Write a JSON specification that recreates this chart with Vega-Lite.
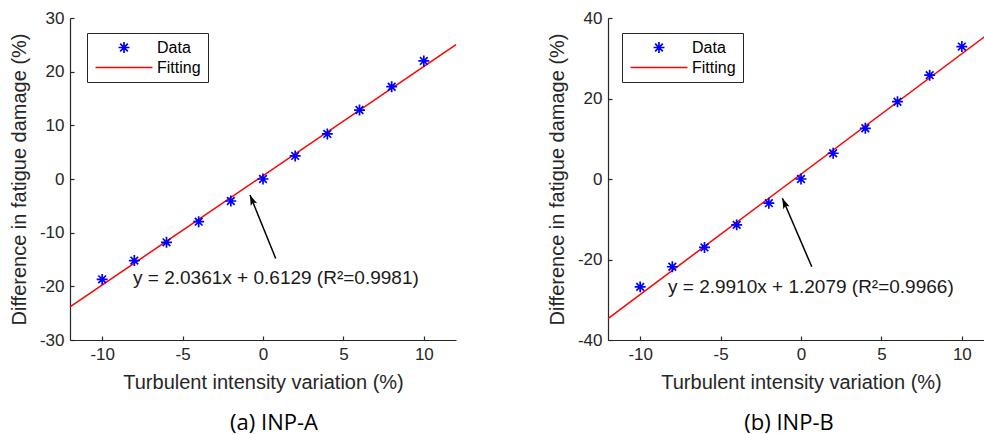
{
  "$schema": "https://vega.github.io/schema/vega-lite/v6.json",
  "background": "white",
  "padding": {"left": 9, "top": 9, "right": 0, "bottom": 4},
  "bounds": "flush",
  "spacing": 152,
  "resolve": {
    "scale": {"x": "independent", "y": "independent", "color": "independent", "shape": "independent"},
    "legend": {"color": "independent", "shape": "independent"}
  },
  "datasets": {
    "pointsA": [
      {"x": -10, "y": -18.7, "series": "Data"},
      {"x": -8, "y": -15.2, "series": "Data"},
      {"x": -6, "y": -11.8, "series": "Data"},
      {"x": -4, "y": -7.95, "series": "Data"},
      {"x": -2, "y": -4.1, "series": "Data"},
      {"x": 0, "y": 0, "series": "Data"},
      {"x": 2, "y": 4.3, "series": "Data"},
      {"x": 4, "y": 8.4, "series": "Data"},
      {"x": 6, "y": 12.85, "series": "Data"},
      {"x": 8, "y": 17.2, "series": "Data"},
      {"x": 10, "y": 22.0, "series": "Data"}
    ],
    "lineA": [
      {"x": -12, "y": -23.82, "series": "Fitting"},
      {"x": 12, "y": 25.05, "series": "Fitting"}
    ],
    "pointsB": [
      {"x": -10, "y": -26.8, "series": "Data"},
      {"x": -8, "y": -21.8, "series": "Data"},
      {"x": -6, "y": -17.0, "series": "Data"},
      {"x": -4, "y": -11.4, "series": "Data"},
      {"x": -2, "y": -6.0, "series": "Data"},
      {"x": 0, "y": 0, "series": "Data"},
      {"x": 2, "y": 6.4, "series": "Data"},
      {"x": 4, "y": 12.6, "series": "Data"},
      {"x": 6, "y": 19.2, "series": "Data"},
      {"x": 8, "y": 25.8, "series": "Data"},
      {"x": 10, "y": 32.9, "series": "Data"}
    ],
    "lineB": [
      {"x": -12, "y": -34.68, "series": "Fitting"},
      {"x": 12, "y": 37.10, "series": "Fitting"}
    ],
    "annA": [
      {"label": "y = 2.0361x + 0.6129 (R²=0.9981)", "tx": -8.08, "ty": -18.4, "hx": -0.81, "hy": -2.98, "ax": 0.79, "ay": -14.8, "angle": -22.4}
    ],
    "annB": [
      {"label": "y = 2.9910x + 1.2079 (R²=0.9966)", "tx": -8.27, "ty": -26.9, "hx": -1.16, "hy": -4.8, "ax": 0.67, "ay": -21.8, "angle": -23.3}
    ]
  },
  "config": {
    "view": {"stroke": null},
    "axis": {
      "grid": false,
      "labelFont": "Liberation Sans",
      "labelFontSize": 17,
      "labelColor": "#262626",
      "labelExpr": "replace(datum.label, '−', '-')",
      "titleFont": "Liberation Sans",
      "titleFontSize": 20,
      "titleFontWeight": "normal",
      "titleColor": "#262626",
      "domainColor": "#262626",
      "domainWidth": 1.2,
      "tickColor": "#262626",
      "tickWidth": 1.2,
      "tickSize": -4
    },
    "legend": {
      "title": null,
      "orient": "none",
      "strokeColor": "#262626",
      "fillColor": "white",
      "padding": 6.5,
      "labelFont": "Liberation Sans",
      "labelFontSize": 16,
      "labelColor": "black",
      "symbolSize": 120,
      "symbolOffset": 22.5,
      "labelOffset": 25,
      "rowPadding": 3,
      "symbolStrokeWidth": 1.7
    }
  },
  "hconcat": [
    {
      "width": 386,
      "height": 322,
      "title": {"text": "(a) INP-A", "orient": "bottom", "frame": "group", "anchor": "middle", "dx": 11, "offset": 21, "font": "Open Sans", "fontSize": 22, "fontWeight": "normal", "color": "black"},
      "layer": [
        {
          "data": {"name": "lineA"},
          "mark": {"type": "line", "strokeWidth": 1.5},
          "encoding": {
            "x": {"field": "x", "type": "quantitative", "scale": {"domain": [-12, 12], "nice": false, "zero": false}, "axis": {"values": [-10, -5, 0, 5, 10], "title": "Turbulent intensity variation (%)", "labelPadding": 10, "titlePadding": 10}},
            "y": {"field": "y", "type": "quantitative", "scale": {"domain": [-30, 30], "nice": false, "zero": false}, "axis": {"values": [-30, -20, -10, 0, 10, 20, 30], "title": "Difference in fatigue damage (%)", "labelPadding": 10, "titlePadding": 10}},
            "color": {"field": "series", "type": "nominal", "scale": {"domain": ["Data", "Fitting"], "range": ["#0000ff", "#ff0000"]}, "legend": {"legendX": 17, "legendY": 15}}
          }
        },
        {
          "data": {"name": "pointsA"},
          "mark": {"type": "point", "filled": false, "strokeWidth": 1.7, "opacity": 1, "size": 120},
          "encoding": {
            "x": {"field": "x", "type": "quantitative"},
            "y": {"field": "y", "type": "quantitative"},
            "color": {"field": "series", "type": "nominal"},
            "shape": {"field": "series", "type": "nominal", "scale": {"domain": ["Data", "Fitting"], "range": ["M0,-1L0,1M-1,0L1,0M-0.7,-0.7L0.7,0.7M-0.7,0.7L0.7,-0.7", "M-5.2,0L5.2,0"]}, "legend": {"legendX": 17, "legendY": 15}}
          }
        },
        {
          "data": {"name": "annA"},
          "mark": {"type": "rule", "color": "black", "strokeWidth": 1.5},
          "encoding": {
            "x": {"field": "ax", "type": "quantitative"},
            "y": {"field": "ay", "type": "quantitative"},
            "x2": {"field": "hx"},
            "y2": {"field": "hy"}
          }
        },
        {
          "data": {"name": "annA"},
          "mark": {"type": "point", "shape": "M0,0L0.7,2.1L0,1.6L-0.7,2.1Z", "filled": true, "color": "black", "opacity": 1, "size": 100},
          "encoding": {
            "x": {"field": "hx", "type": "quantitative"},
            "y": {"field": "hy", "type": "quantitative"},
            "angle": {"field": "angle", "type": "quantitative", "scale": null}
          }
        },
        {
          "data": {"name": "annA"},
          "mark": {"type": "text", "align": "left", "baseline": "middle", "font": "Liberation Sans", "fontSize": 19, "color": "#1a1a1a"},
          "encoding": {
            "x": {"field": "tx", "type": "quantitative"},
            "y": {"field": "ty", "type": "quantitative"},
            "text": {"field": "label"}
          }
        }
      ]
    },
    {
      "width": 386,
      "height": 322,
      "title": {"text": "(b) INP-B", "orient": "bottom", "frame": "group", "anchor": "middle", "dx": -12, "offset": 21, "font": "Open Sans", "fontSize": 22, "fontWeight": "normal", "color": "black"},
      "layer": [
        {
          "data": {"name": "lineB"},
          "mark": {"type": "line", "strokeWidth": 1.5},
          "encoding": {
            "x": {"field": "x", "type": "quantitative", "scale": {"domain": [-12, 12], "nice": false, "zero": false}, "axis": {"values": [-10, -5, 0, 5, 10], "title": "Turbulent intensity variation (%)", "labelPadding": 10, "titlePadding": 10}},
            "y": {"field": "y", "type": "quantitative", "scale": {"domain": [-40, 40], "nice": false, "zero": false}, "axis": {"values": [-40, -20, 0, 20, 40], "title": "Difference in fatigue damage (%)", "labelPadding": 10, "titlePadding": 10}},
            "color": {"field": "series", "type": "nominal", "scale": {"domain": ["Data", "Fitting"], "range": ["#0000ff", "#ff0000"]}, "legend": {"legendX": 14, "legendY": 15}}
          }
        },
        {
          "data": {"name": "pointsB"},
          "mark": {"type": "point", "filled": false, "strokeWidth": 1.7, "opacity": 1, "size": 120},
          "encoding": {
            "x": {"field": "x", "type": "quantitative"},
            "y": {"field": "y", "type": "quantitative"},
            "color": {"field": "series", "type": "nominal"},
            "shape": {"field": "series", "type": "nominal", "scale": {"domain": ["Data", "Fitting"], "range": ["M0,-1L0,1M-1,0L1,0M-0.7,-0.7L0.7,0.7M-0.7,0.7L0.7,-0.7", "M-5.2,0L5.2,0"]}, "legend": {"legendX": 14, "legendY": 15}}
          }
        },
        {
          "data": {"name": "annB"},
          "mark": {"type": "rule", "color": "black", "strokeWidth": 1.5},
          "encoding": {
            "x": {"field": "ax", "type": "quantitative"},
            "y": {"field": "ay", "type": "quantitative"},
            "x2": {"field": "hx"},
            "y2": {"field": "hy"}
          }
        },
        {
          "data": {"name": "annB"},
          "mark": {"type": "point", "shape": "M0,0L0.7,2.1L0,1.6L-0.7,2.1Z", "filled": true, "color": "black", "opacity": 1, "size": 100},
          "encoding": {
            "x": {"field": "hx", "type": "quantitative"},
            "y": {"field": "hy", "type": "quantitative"},
            "angle": {"field": "angle", "type": "quantitative", "scale": null}
          }
        },
        {
          "data": {"name": "annB"},
          "mark": {"type": "text", "align": "left", "baseline": "middle", "font": "Liberation Sans", "fontSize": 19, "color": "#1a1a1a"},
          "encoding": {
            "x": {"field": "tx", "type": "quantitative"},
            "y": {"field": "ty", "type": "quantitative"},
            "text": {"field": "label"}
          }
        }
      ]
    }
  ]
}
